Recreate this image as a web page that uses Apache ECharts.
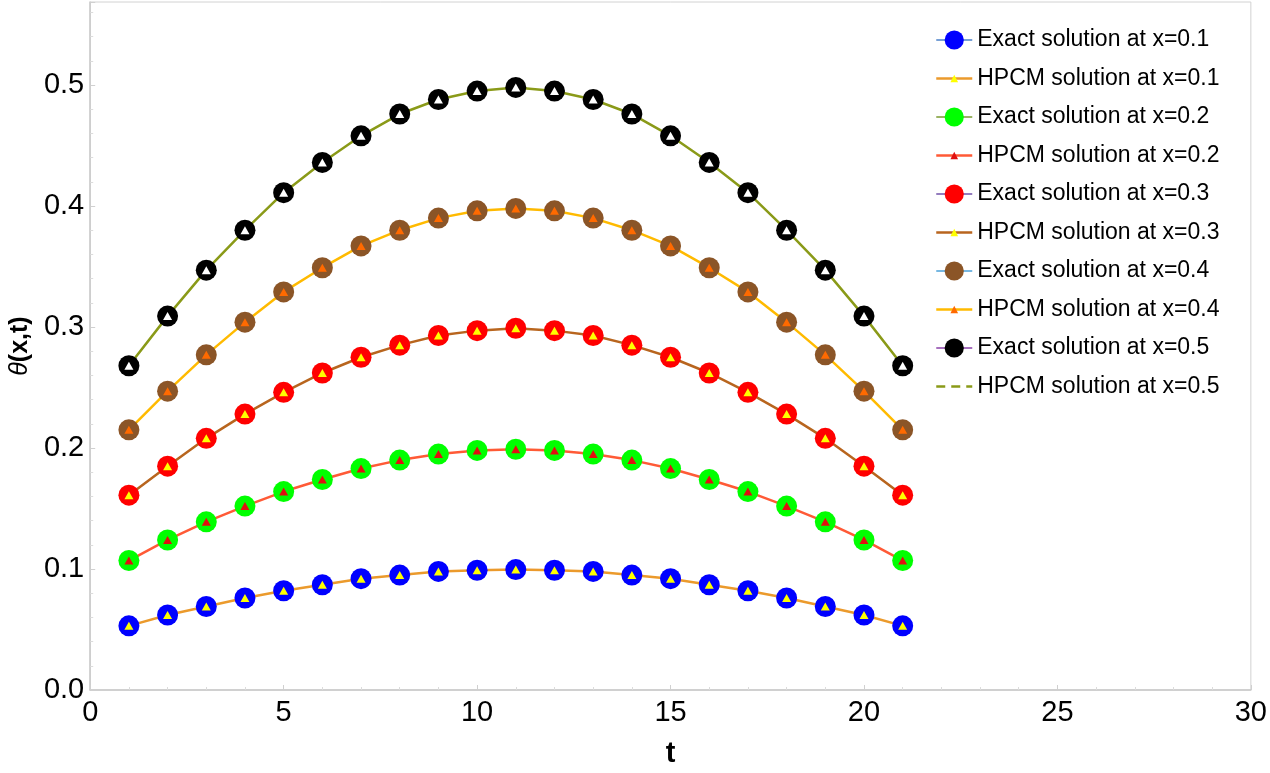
<!DOCTYPE html>
<html>
<head>
<meta charset="utf-8">
<script src="https://cdn.jsdelivr.net/npm/echarts@6/dist/echarts.min.js"></script>
<style>
html,body{margin:0;padding:0;background:#fff;}
#c{width:1270px;height:773px;}
</style>
</head>
<body>
<div id="c"></div>
<script>
// ---- data ----
const tValues = [1,2,3,4,5,6,7,8,9,10,11,12,13,14,15,16,17,18,19,20,21];
const theta01 = [0.053,0.062,0.069,0.076,0.082,0.087,0.092,0.095,0.098,0.099,0.0995,0.099,0.098,0.095,0.092,0.087,0.082,0.076,0.069,0.062,0.053];
const theta02 = [0.107,0.124,0.139,0.152,0.164,0.174,0.183,0.190,0.195,0.198,0.199,0.198,0.195,0.190,0.183,0.174,0.164,0.152,0.139,0.124,0.107];
const theta03 = [0.161,0.185,0.208,0.228,0.246,0.262,0.275,0.285,0.293,0.297,0.299,0.297,0.293,0.285,0.275,0.262,0.246,0.228,0.208,0.185,0.161];
const theta04 = [0.215,0.247,0.277,0.304,0.329,0.349,0.367,0.380,0.390,0.396,0.398,0.396,0.390,0.380,0.367,0.349,0.329,0.304,0.277,0.247,0.215];
const theta05 = [0.268,0.309,0.347,0.380,0.411,0.436,0.458,0.476,0.488,0.495,0.498,0.495,0.488,0.476,0.458,0.436,0.411,0.380,0.347,0.309,0.268];
const xLevels = ['0.1','0.2','0.3','0.4','0.5'];
const xTicks = [0,5,10,15,20,25,30];
const yTicks = [0.0,0.1,0.2,0.3,0.4,0.5];

// ---- styles ----
const allData = [theta01, theta02, theta03, theta04, theta05];
const circleColors = ['#0000ff','#00ff00','#ff0000','#8b5527','#000000'];
const exactLegendLine = ['#4a80c8','#7a9a30','#7050a8','#4aa0d8','#8a40a8'];
const hpcmLine = ['#eb9a2c','#ff5a36','#b8651e','#ffba00','#8a9a18'];
const triColors = ['#ffff00','#e01010','#ffff00','#ff6a00','#ffffff'];
const triPath = 'path://M0,0 M20,20 M6,14 L10,6 L14,14 Z';
const font = 'Liberation Sans, Arial, Helvetica, sans-serif';

const pairs = d => d.map((v, i) => [tValues[i], v]);

const series = [];
const legendData = [];
allData.forEach((d, k) => {
  const exactName = 'Exact solution at x=' + xLevels[k];
  const hpcmName = 'HPCM solution at x=' + xLevels[k];
  // HPCM line (beneath the circles)
  series.push({
    name: hpcmName, type: 'line', data: pairs(d), z: 2,
    symbol: triPath, symbolSize: 20, showSymbol: true,
    itemStyle: { color: triColors[k] },
    lineStyle: { color: hpcmLine[k], width: 2.5 },
    silent: true, animation: false
  });
  // Exact solution circles
  series.push({
    name: exactName, type: 'line', data: pairs(d), z: 3,
    symbol: 'circle', symbolSize: 21,
    itemStyle: { color: circleColors[k] },
    lineStyle: { width: 0, color: exactLegendLine[k] },
    silent: true, animation: false
  });
  // HPCM triangles drawn on top of the circles
  series.push({
    name: 'tri' + k, type: 'line', data: pairs(d), z: 4,
    symbol: 'triangle', symbolSize: [9, 8],
    itemStyle: { color: triColors[k] },
    lineStyle: { width: 0 },
    silent: true, animation: false
  });
  legendData.push({ name: exactName, lineStyle: { width: 1.5, color: exactLegendLine[k], opacity: 1 } });
  if (k < 4) {
    legendData.push({ name: hpcmName, lineStyle: { width: 2.5, color: hpcmLine[k] } });
  } else {
    legendData.push({ name: hpcmName, lineStyle: { width: 2.5, color: hpcmLine[k], type: [9, 6] }, itemStyle: { opacity: 0 } });
  }
});

const chart = echarts.init(document.getElementById('c'), null, { renderer: 'canvas' });
chart.setOption({
  backgroundColor: '#ffffff',
  animation: false,
  grid: { left: 88, right: 18, top: 2, bottom: 76, show: true, borderColor: '#d2d2d2', borderWidth: 1, containLabel: false },
  legend: {
    orient: 'vertical', left: 930, top: 23,
    itemWidth: 36, itemHeight: 24, itemGap: 14.5,
    data: legendData,
    textStyle: { fontFamily: font, fontSize: 23, color: '#000', lineHeight: 24 }
  },
  xAxis: {
    type: 'value', min: xTicks[0], max: xTicks[xTicks.length - 1], interval: 5,
    name: 't', nameLocation: 'middle', nameGap: 49,
    nameTextStyle: { fontFamily: font, fontSize: 29, fontWeight: 'bold', color: '#000' },
    axisLine: { lineStyle: { color: '#c8c8c8', width: 1.5 } },
    axisTick: { inside: true, length: 5, lineStyle: { color: '#d0d0d0' } },
    minorTick: { show: true, splitNumber: 5, length: 3, lineStyle: { color: '#dcdcdc' } },
    splitLine: { show: false },
    axisLabel: { fontFamily: font, fontSize: 29, color: '#000', margin: 8 }
  },
  yAxis: {
    type: 'value', min: yTicks[0], max: 0.5686, interval: 0.1,
    name: '{a|θ}{b|(x,t)}', nameLocation: 'middle', nameGap: 50, nameRotate: 90,
    nameTextStyle: {
      rich: {
        a: { fontFamily: font, fontSize: 25, fontStyle: 'italic', color: '#000' },
        b: { fontFamily: font, fontSize: 25, fontWeight: 'bold', color: '#000' }
      }
    },
    axisLine: { show: true, lineStyle: { color: '#c8c8c8', width: 1.5 } },
    axisTick: { show: true, inside: true, length: 5, lineStyle: { color: '#d0d0d0' } },
    minorTick: { show: true, splitNumber: 5, length: 3, lineStyle: { color: '#dcdcdc' } },
    splitLine: { show: false },
    axisLabel: {
      fontFamily: font, fontSize: 29, color: '#000', margin: 6,
      formatter: v => (yTicks.some(t => Math.abs(t - v) < 1e-9) ? v.toFixed(1) : '')
    }
  },
  series: series
});
</script>
</body>
</html>
